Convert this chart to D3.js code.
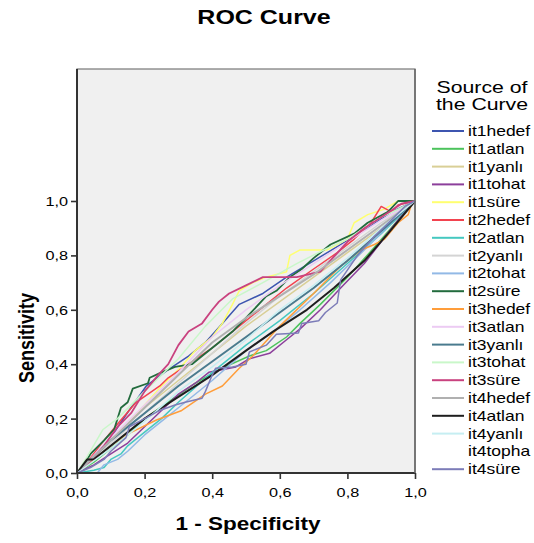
<!DOCTYPE html>
<html>
<head>
<meta charset="utf-8">
<script src="https://cdn.jsdelivr.net/npm/d3@7"></script>
<style>
  body { margin: 0; background: #fff; }
  text { font-family: "Liberation Sans", Arial, sans-serif; fill: #000; }
</style>
</head>
<body>
<svg id="chart" width="534" height="543"></svg>
<script>
// ROC points: [1 - specificity, sensitivity]
const it1hedef = [[0,0],[0.04,0.05],[0.1,0.13],[0.14,0.205],[0.205,0.32],[0.27,0.38],[0.33,0.43],[0.38,0.48],[0.43,0.55],[0.48,0.62],[0.55,0.66],[0.62,0.72],[0.7,0.78],[0.78,0.84],[0.86,0.9],[0.93,0.96],[1,1]];
const it1atlan = [[0,0],[0.05,0.04],[0.1,0.09],[0.15,0.14],[0.2,0.2],[0.28,0.27],[0.35,0.33],[0.42,0.38],[0.51,0.43],[0.56,0.45],[0.62,0.5],[0.66,0.55],[0.72,0.62],[0.8,0.72],[0.88,0.83],[0.95,0.93],[1,1]];
const it1yanli = [[0,0],[0.1,0.12],[0.2,0.24],[0.3,0.34],[0.4,0.44],[0.5,0.54],[0.6,0.63],[0.7,0.72],[0.8,0.81],[0.9,0.9],[1,1]];
const it1tohat = [[0,0],[0.05,0.03],[0.1,0.07],[0.15,0.11],[0.2,0.17],[0.25,0.23],[0.3,0.29],[0.35,0.33],[0.39,0.37],[0.47,0.39],[0.51,0.42],[0.57,0.44],[0.62,0.49],[0.66,0.53],[0.72,0.6],[0.78,0.68],[0.85,0.77],[0.9,0.85],[0.95,0.93],[1,1]];
const it1sure = [[0,0],[0.05,0.06],[0.1,0.12],[0.15,0.18],[0.2,0.25],[0.25,0.32],[0.3,0.38],[0.35,0.45],[0.4,0.5],[0.43,0.55],[0.46,0.62],[0.48,0.67],[0.52,0.7],[0.56,0.72],[0.62,0.74],[0.63,0.8],[0.66,0.82],[0.74,0.82],[0.8,0.86],[0.82,0.92],[0.86,0.95],[0.91,0.97],[0.95,1],[1,1]];
const it2hedef = [[0,0],[0.03,0.04],[0.08,0.12],[0.12,0.18],[0.175,0.26],[0.245,0.32],[0.27,0.35],[0.33,0.4],[0.4,0.46],[0.48,0.54],[0.55,0.61],[0.62,0.68],[0.7,0.75],[0.77,0.81],[0.82,0.86],[0.87,0.92],[0.9,0.98],[0.93,0.96],[0.95,0.985],[1,1]];
const it2atlan = [[0,0],[0.05,0.01],[0.08,0.02],[0.1,0.05],[0.13,0.07],[0.15,0.1],[0.2,0.15],[0.25,0.2],[0.3,0.26],[0.4,0.37],[0.5,0.47],[0.6,0.56],[0.7,0.66],[0.8,0.77],[0.9,0.88],[1,1]];
const it2yanli = [[0,0],[0.1,0.11],[0.2,0.22],[0.3,0.33],[0.4,0.44],[0.5,0.55],[0.6,0.65],[0.7,0.74],[0.8,0.83],[0.9,0.92],[1,1]];
const it2tohat = [[0,0],[0.06,0],[0.08,0.03],[0.12,0.05],[0.15,0.08],[0.2,0.14],[0.26,0.2],[0.3,0.24],[0.4,0.34],[0.5,0.45],[0.58,0.52],[0.66,0.6],[0.75,0.7],[0.85,0.82],[0.93,0.92],[1,1]];
const it2sure = [[0,0],[0.02,0.03],[0.04,0.07],[0.08,0.12],[0.11,0.16],[0.12,0.2],[0.13,0.24],[0.15,0.26],[0.165,0.31],[0.21,0.33],[0.215,0.35],[0.25,0.37],[0.29,0.39],[0.34,0.4],[0.37,0.43],[0.42,0.48],[0.46,0.52],[0.5,0.57],[0.56,0.65],[0.59,0.67],[0.63,0.72],[0.665,0.75],[0.7,0.79],[0.75,0.84],[0.82,0.88],[0.86,0.92],[0.89,0.94],[0.92,0.96],[0.95,1],[1,1]];
const it3hedef = [[0,0],[0.05,0.05],[0.1,0.1],[0.145,0.14],[0.235,0.195],[0.31,0.23],[0.38,0.29],[0.43,0.32],[0.48,0.385],[0.52,0.43],[0.6,0.54],[0.7,0.66],[0.78,0.76],[0.84,0.82],[0.88,0.84],[0.91,0.86],[0.95,0.92],[0.98,0.95],[0.99,0.99],[1,1]];
const it3atlan = [[0,0],[0.1,0.13],[0.2,0.25],[0.3,0.37],[0.4,0.5],[0.5,0.6],[0.6,0.69],[0.7,0.77],[0.8,0.85],[0.9,0.93],[1,1]];
const it3yanli = [[0,0],[0.05,0.06],[0.1,0.12],[0.2,0.22],[0.3,0.32],[0.4,0.41],[0.5,0.5],[0.6,0.59],[0.7,0.68],[0.8,0.78],[0.9,0.89],[1,1]];
const it3tohat = [[0,0],[0.03,0.06],[0.077,0.16],[0.12,0.2],[0.2,0.3],[0.3,0.42],[0.38,0.54],[0.46,0.64],[0.55,0.7],[0.65,0.77],[0.73,0.82],[0.8,0.86],[0.9,0.94],[1,1]];
const it3sure = [[0,0],[0.03,0.03],[0.08,0.1],[0.12,0.17],[0.16,0.22],[0.2,0.3],[0.24,0.36],[0.27,0.4],[0.3,0.47],[0.33,0.52],[0.37,0.55],[0.4,0.6],[0.42,0.63],[0.45,0.66],[0.5,0.69],[0.55,0.72],[0.65,0.72],[0.72,0.74],[0.8,0.85],[0.85,0.9],[0.9,0.94],[0.96,0.99],[1,1]];
const it4hedef = [[0,0],[0.1,0.12],[0.2,0.24],[0.3,0.36],[0.4,0.48],[0.5,0.57],[0.6,0.65],[0.7,0.73],[0.8,0.82],[0.9,0.91],[1,1]];
const it4atlan = [[0,0],[0.03,0.05],[0.05,0.05],[0.1,0.1],[0.2,0.2],[0.3,0.28],[0.4,0.36],[0.5,0.45],[0.58,0.52],[0.68,0.6],[0.76,0.68],[0.85,0.78],[0.92,0.88],[1,1]];
const it4yanli = [[0,0],[0.1,0.09],[0.2,0.19],[0.3,0.3],[0.4,0.39],[0.5,0.49],[0.6,0.6],[0.7,0.69],[0.8,0.79],[0.9,0.9],[1,1]];
const it4topha = [];
const it4sure = [[0,0],[0.04,0.02],[0.08,0.05],[0.1,0.08],[0.145,0.13],[0.155,0.17],[0.2,0.2],[0.245,0.23],[0.29,0.25],[0.32,0.26],[0.37,0.275],[0.38,0.3],[0.4,0.36],[0.41,0.385],[0.46,0.39],[0.5,0.4],[0.51,0.445],[0.56,0.47],[0.59,0.51],[0.655,0.515],[0.665,0.55],[0.715,0.56],[0.735,0.59],[0.77,0.625],[0.78,0.71],[0.83,0.8],[0.88,0.87],[0.93,0.93],[0.97,0.98],[1,1]];

const seriesNames = ["it1hedef","it1atlan","it1yanlı","it1tohat","it1süre","it2hedef","it2atlan","it2yanlı","it2tohat","it2süre",
  "it3hedef","it3atlan","it3yanlı","it3tohat","it3süre","it4hedef","it4atlan","it4yanlı","it4topha","it4süre"];
const seriesValues = [it1hedef,it1atlan,it1yanli,it1tohat,it1sure,it2hedef,it2atlan,it2yanli,it2tohat,it2sure,
  it3hedef,it3atlan,it3yanli,it3tohat,it3sure,it4hedef,it4atlan,it4yanli,it4topha,it4sure];
const tickValues = [0, 0.2, 0.4, 0.6, 0.8, 1.0];

const colors = ["#3d55b0","#4cc35c","#d9cf96","#8c3f9b","#ffff70","#f2434f","#45c8c0","#d4d4d4","#92b9e6","#226b3d",
  "#ff9d3a","#eccbf3","#4a7b8e","#c9f7c9","#c9427f","#b0b0b0","#1e1e1e","#c6eef2",null,"#7c7cb8"];
const widths = [1.5,1.5,1.5,1.5,1.5,1.5,1.5,1.5,1.5,1.8,1.5,1.5,2,1.5,1.8,2,2,1.5,1.5,1.5];

const sx = 1.25; // glyphs in the picture are stretched sideways
const svg = d3.select("#chart");

const plot = { left: 77, right: 415, top: 69, bottom: 473 };
const xscale = d3.scaleLinear().domain([0, 1]).range([plot.left, plot.right]);
const yscale = d3.scaleLinear().domain([0, 1]).range([plot.bottom, 201]);

// plot background and frame
svg.append("rect")
  .attr("x", plot.left).attr("y", plot.top)
  .attr("width", plot.right - plot.left).attr("height", plot.bottom - plot.top)
  .attr("fill", "#f0f0f0").attr("stroke", "#777").attr("stroke-width", 1.2);

// curves
const line = d3.line().x(d => xscale(d[0])).y(d => yscale(d[1]));
const g = svg.append("g");
seriesValues.forEach((pts, i) => {
  if (!pts.length || !colors[i]) return;
  g.append("path")
    .attr("d", line(pts))
    .attr("fill", "none")
    .attr("stroke", colors[i])
    .attr("stroke-width", widths[i])
    .attr("stroke-linejoin", "round");
});

// axes
const fmt = d => d3.format(".1f")(d).replace(".", ",");
const xaxis = d3.axisBottom(xscale).tickValues(tickValues).tickFormat(fmt).tickSizeOuter(0).tickSize(6);
const yaxis = d3.axisLeft(yscale).tickValues(tickValues).tickFormat(fmt).tickSizeOuter(0).tickSize(6);

const gx = svg.append("g").attr("transform", `translate(0,${plot.bottom})`).call(xaxis);
const gy = svg.append("g").attr("transform", `translate(${plot.left},0)`).call(yaxis);
gx.select(".domain").remove();
gy.select(".domain").remove();
[gx, gy].forEach(a => {
  a.selectAll(".tick line").attr("stroke", "#333").attr("stroke-width", 1.6);
  a.selectAll(".tick text").attr("font-size", 13).attr("fill", "#000")
    .style("font-family", '"Liberation Sans", Arial, sans-serif');
});
gx.selectAll(".tick text").attr("y", 0).attr("dy", 0)
  .attr("transform", "translate(0,24) scale(" + sx + ",1)");
gy.selectAll(".tick text").attr("x", 0).attr("dy", "0.35em")
  .attr("transform", "translate(-9,0) scale(" + sx + ",1)");

svg.append("line").attr("x1", plot.left).attr("x2", plot.left)
  .attr("y1", plot.top).attr("y2", plot.bottom + 1).attr("stroke", "#333").attr("stroke-width", 2);
svg.append("line").attr("x1", plot.left - 1).attr("x2", plot.right)
  .attr("y1", plot.bottom).attr("y2", plot.bottom).attr("stroke", "#333").attr("stroke-width", 2);
svg.append("line").attr("x1", plot.right).attr("x2", plot.right)
  .attr("y1", plot.top).attr("y2", plot.bottom).attr("stroke", "#666").attr("stroke-width", 1.5);

// titles
function label(x, y, str, size, bold, anchor, extra) {
  return svg.append("text")
    .attr("transform", `translate(${x},${y}) ${extra || ""} scale(${sx},1)`)
    .attr("text-anchor", anchor || "middle")
    .attr("font-size", size)
    .attr("font-weight", bold ? "bold" : "normal")
    .text(str);
}
label(264, 24, "ROC Curve", 20, true);
label(248, 530, "1 - Specificity", 18, true);
svg.append("text")
  .attr("transform", "translate(34,338) rotate(-90) scale(1," + sx + ")")
  .attr("text-anchor", "middle").attr("font-size", 18).attr("font-weight", "bold")
  .text("Sensitivity");

// legend
label(482, 93, "Source of", 17, false);
label(482, 110, "the Curve", 17, false);
const leg = svg.append("g");
seriesNames.forEach((name, i) => {
  const y = 131 + i * 17.8;
  if (colors[i]) {
    leg.append("line").attr("x1", 432).attr("x2", 464).attr("y1", y).attr("y2", y)
      .attr("stroke", colors[i]).attr("stroke-width", 2);
  }
  leg.append("text")
    .attr("transform", `translate(468,${y + 5}) scale(${sx},1)`)
    .attr("font-size", 14)
    .text(name);
});
</script>
</body>
</html>
